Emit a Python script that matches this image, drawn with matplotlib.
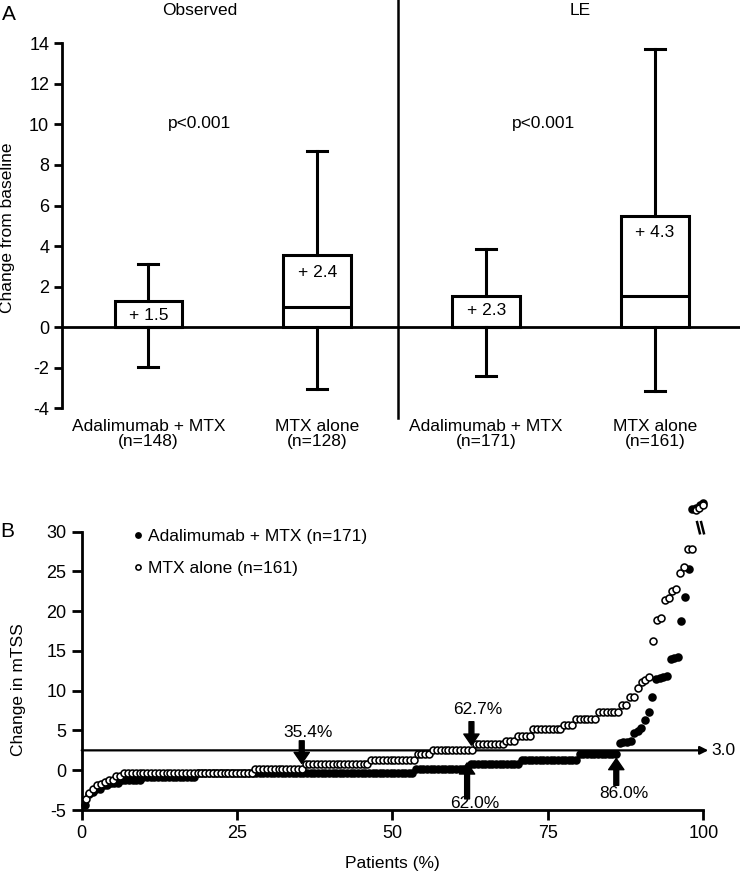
import numpy as np
import matplotlib
matplotlib.use('Agg')
from matplotlib import pyplot as plt

plt.rcParams['font.family'] = ['Liberation Sans', 'DejaVu Sans']
plt.rcParams['font.size'] = 12.5
plt.rcParams['axes.unicode_minus'] = False

# ---- panel A: change from baseline (box summaries) ----
groups = ['Adalimumab + MTX', 'MTX alone', 'Adalimumab + MTX', 'MTX alone']
n_a = [148, 128, 171, 161]
q1 = [0, 0, 0, 0]
median = [0, 1.0, 0, 1.55]
q3 = [1.3, 3.55, 1.55, 5.5]
whisk_lo = [-1.95, -3.05, -2.4, -3.15]
whisk_hi = [3.1, 8.7, 3.85, 13.7]
means = [1.5, 2.4, 2.3, 4.3]
sections = ['Observed', 'LE']
pvals = ['p<0.001', 'p<0.001']

# ---- panel B: cumulative probability of change in mTSS ----
ada_levels = [-4.4, -3.0, -2.7, -2.3, -1.9, -1.6, -1.25, -0.85, -0.4, 0.2, 0.84, 1.26, 2.1,
              3.4, 3.5, 3.6, 3.7, 4.7, 4.9, 5.25, 6.3, 7.3, 9.2, 11.5, 11.6, 11.7, 11.8,
              14.0, 14.1, 14.2, 18.8, 21.8, 25.3, 32.8, 33.0, 33.3, 33.6]
ada_counts = [1, 1, 1, 2, 2, 3, 6, 15, 60, 15, 14, 16, 11] + [1] * 24
mtx_levels = [-3.6, -2.9, -2.3, -1.9, -1.7, -1.5, -1.26, -0.75, -0.3, 0.2, 0.75, 1.26, 2.1,
              2.6, 3.27, 3.7, 4.28, 5.2, 5.7, 6.4, 7.3, 8.2, 9.2, 10.3, 11.1, 11.4, 11.7,
              16.3, 18.9, 19.2, 21.4, 21.7, 22.5, 22.8, 24.8, 25.6, 27.8, 32.7, 33.0, 33.4]
mtx_counts = [1, 1, 1, 1, 1, 1, 2, 2, 34, 13, 17, 12, 4, 11, 8, 3, 4, 8, 3, 6, 6, 2, 2,
              1, 1, 1, 1] + [1] * 9 + [2, 1, 1, 1]
threshold = 2.5
threshold_label = '3.0'
# (percent, label, points down?)
arrow_marks = [(35.4, '35.4%', True), (62.7, '62.7%', True),
               (62.0, '62.0%', False), (86.0, '86.0%', False)]

fig = plt.figure(figsize=(7.4, 8.72), dpi=100)

# ================= panel A =================
axA = fig.add_axes([0.0834, 0.5318, 0.9166, 0.4185])
stats = []
for i in range(len(groups)):
    stats.append(dict(q1=q1[i], med=median[i], q3=q3[i],
                      whislo=whisk_lo[i], whishi=whisk_hi[i], fliers=[]))
pos = [1, 2, 3, 4]
lw = 2.2
axA.bxp(stats, positions=pos, widths=0.4, capwidths=0.12, showfliers=False,
        patch_artist=True,
        boxprops=dict(facecolor='white', edgecolor='black', linewidth=lw),
        whiskerprops=dict(color='black', linewidth=lw),
        capprops=dict(color='black', linewidth=lw),
        medianprops=dict(color='black', linewidth=lw))

axA.set_xlim(0.487, 4.503)
axA.set_ylim(-4, 14)
axA.axhline(0, color='black', lw=2, zorder=0.5)
axA.plot([2.48, 2.48], [-4.48, 16.2], color='black', lw=1.8, clip_on=False)

label_y = [0.6, 2.7, 0.8, 4.65]
for i, m in enumerate(means):
    axA.text(pos[i], label_y[i], '+ %.1f' % m, ha='center', va='center', fontsize=12.5)

axA.text(1.306, 15.62, sections[0], ha='center', va='center')
axA.text(3.556, 15.62, sections[1], ha='center', va='center')
axA.text(1.306, 10.05, pvals[0], ha='center', va='center')
axA.text(3.34, 10.05, pvals[1], ha='center', va='center')

axA.set_yticks(range(-4, 15, 2))
axA.set_xticks(pos)
axA.set_xticklabels(['%s\n(n=%d)' % (g, n) for g, n in zip(groups, n_a)])
for lbl in axA.get_xticklabels():
    lbl.set_linespacing(1.0)
axA.tick_params(axis='x', length=0, pad=8)
axA.tick_params(axis='y', direction='out', length=6, width=2, pad=3, labelsize=13)
for s in ['top', 'right', 'bottom']:
    axA.spines[s].set_visible(False)
axA.spines['left'].set_linewidth(2)
axA.set_ylabel('Change from baseline')
axA.yaxis.set_label_coords(-0.0688, 0.495)
fig.text(0.003, 1 - 15 / 872, 'A', fontsize=15, va='center', ha='left')

# ================= panel B =================
axB = fig.add_axes([0.1104, 0.0711, 0.84, 0.3192])
ada = np.repeat(ada_levels, ada_counts)
mtx = np.repeat(mtx_levels, mtx_counts)
x_ada = np.arange(1, len(ada) + 1) / len(ada) * 100
x_mtx = np.arange(1, len(mtx) + 1) / len(mtx) * 100

axB.plot(x_ada, ada, 'o', ms=5.0, mfc='black', mec='black', mew=1.15,
         clip_on=False, label='Adalimumab + MTX (n=%d)' % len(ada), zorder=3)
axB.plot(x_mtx, mtx, 'o', ms=5.0, mfc='white', mec='black', mew=1.15,
         clip_on=False, label='MTX alone (n=%d)' % len(mtx), zorder=4)

axB.set_xlim(0, 100)
axB.set_ylim(-5, 30)

axB.annotate('', xy=(100.8, threshold), xytext=(0, threshold),
             arrowprops=dict(arrowstyle='-|>', color='black', lw=1.6,
                             mutation_scale=12, shrinkA=0, shrinkB=0),
             annotation_clip=False, zorder=2)
axB.text(101.3, threshold, threshold_label, ha='left', va='center', fontsize=12.5)

for pct, lab, down in arrow_marks:
    if down:
        axB.annotate('', xy=(pct, 0.85 if pct < 50 else 3.15),
                     xytext=(pct, 3.7 if pct < 50 else 6.1),
                     arrowprops=dict(facecolor='black', edgecolor='black', width=3.5,
                                     headwidth=11, headlength=8, shrink=0), zorder=5)
        axB.text(pct + 1.0, 4.8 if pct < 50 else 7.6, lab, ha='center', va='center')
    else:
        tip = 0.92 if pct < 80 else 1.47
        base = -3.6 if pct < 80 else -1.9
        axB.annotate('', xy=(pct, tip), xytext=(pct, base),
                     arrowprops=dict(facecolor='black', edgecolor='black', width=3.5,
                                     headwidth=11, headlength=8, shrink=0), zorder=5)
        axB.text(pct + 1.2, -4.2 if pct < 80 else -2.9, lab, ha='center', va='center')

# break mark near the top
for dx in (0.0, 0.65):
    axB.plot([99.0 + dx, 99.45 + dx], [31.2, 29.8], color='black', lw=1.8, clip_on=False)

leg = axB.legend(loc='upper left', bbox_to_anchor=(0.0835, 1.01), frameon=False,
                 borderpad=0, borderaxespad=0, handlelength=0.5, handletextpad=0.35,
                 labelspacing=0.95, markerscale=0.75, fontsize=12.5)

axB.set_xticks([0, 25, 50, 75, 100])
axB.set_yticks(range(-5, 31, 5))
axB.tick_params(direction='out', length=7, width=2, pad=4, labelsize=13)
for s in ['top', 'right']:
    axB.spines[s].set_visible(False)
for s in ['left', 'bottom']:
    axB.spines[s].set_linewidth(2)
axB.set_xlabel('Patients (%)', labelpad=10)
axB.set_ylabel('Change in mTSS')
axB.yaxis.set_label_coords(-0.0896, 0.431)
fig.text(0.001, 1 - 531 / 872, 'B', fontsize=15, va='center', ha='left')

fig.savefig('out.png', dpi=100)
